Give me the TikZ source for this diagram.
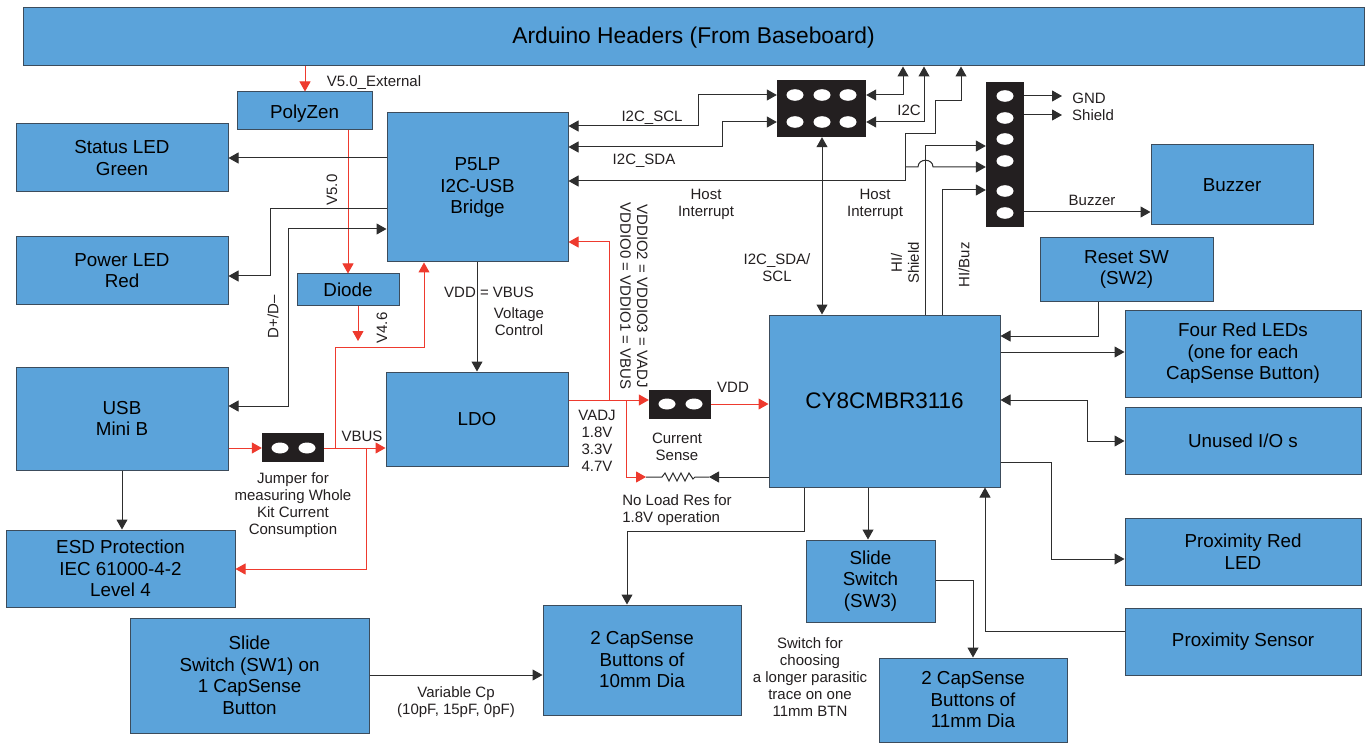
\documentclass[tikz,border=0pt]{standalone}
\usepackage{fontspec}
\setmainfont{Liberation Sans}
\usetikzlibrary{arrows.meta,calc}
\definecolor{blockblue}{HTML}{5BA3DA}
\definecolor{blockedge}{HTML}{3C4C5C}
\definecolor{wirered}{HTML}{EE3A2E}
\definecolor{wirek}{HTML}{2E2E2E}
\definecolor{blockk}{HTML}{231F20}
\tikzset{
  blockbox/.style={draw=blockedge,fill=blockblue,line width=1pt,inner sep=0pt,align=center,text=black,font=\fontsize{18.8}{21.5}\selectfont},
  headerbox/.style={fill=blockk,draw=none,inner sep=0pt},
  lbl/.style={inner sep=0pt,align=center,text=blockk,font=\fontsize{15}{16.8}\selectfont},
  wire/.style={draw=wirek,line width=1pt,-{Triangle[length=10pt,width=11pt]}},
  wire2/.style={draw=wirek,line width=1pt,{Triangle[length=10pt,width=11pt]}-{Triangle[length=10pt,width=11pt]}},
  plain/.style={draw=wirek,line width=1pt},
  rwire/.style={draw=wirered,line width=1pt,-{Triangle[length=10pt,width=11pt]}},
  hole/.style={fill=white,draw=none},
}
\newcommand{\bx}[6]{%
  \pgfmathsetmacro{\bxw}{#4-#2}\pgfmathsetmacro{\bxh}{#5-#3}%
  \pgfmathsetmacro{\bxcx}{(#2+#4)/2}\pgfmathsetmacro{\bxcy}{(#3+#5)/2}%
  \node[blockbox,minimum width=\bxw pt,minimum height=\bxh pt] (#1) at (\bxcx,\bxcy) {#6};}
\newcommand{\hd}[5]{%
  \pgfmathsetmacro{\bxw}{#4-#2}\pgfmathsetmacro{\bxh}{#5-#3}%
  \pgfmathsetmacro{\bxcx}{(#2+#4)/2}\pgfmathsetmacro{\bxcy}{(#3+#5)/2}%
  \node[headerbox,minimum width=\bxw pt,minimum height=\bxh pt] (#1) at (\bxcx,\bxcy) {};}
\begin{document}
\begin{tikzpicture}[x=1pt,y=-1pt]
\useasboundingbox (0,0) rectangle (1370,743);
\fill[white] (0,0) rectangle (1370,743);
% blocks
\bx{ard}{23}{8}{1364}{66}{\fontsize{22.8}{26}\selectfont\raisebox{2pt}[\height][0pt]{Arduino Headers (From Baseboard)}}
\bx{poly}{237}{92}{372}{130}{\raisebox{-1pt}[\height][0pt]{PolyZen}}
\bx{pfive}{387}{113}{568}{262}{P5LP\\I2C-USB\\Bridge}
\bx{status}{16}{124}{228}{192}{Status LED\\Green}
\bx{power}{16}{237}{228}{304}{Power LED\\Red}
\bx{diode}{297}{274}{399}{305}{Diode}
\bx{usb}{16}{367}{228}{470}{USB\\Mini B}
\bx{ldo}{386}{372}{568}{466}{LDO}
\bx{esd}{6}{530}{235}{607}{ESD Protection\\IEC 61000-4-2\\Level 4}
\bx{swone}{130}{618}{369}{733}{Slide\\Switch (SW1) on\\1 CapSense\\Button}
\bx{capten}{543}{605}{741}{715}{2 CapSense\\Buttons of\\10mm Dia}
\bx{swthree}{806}{540}{935}{622}{Slide\\Switch\\(SW3)}
\bx{capel}{879}{658}{1067}{742}{2 CapSense\\Buttons of\\11mm Dia}
\bx{cy}{769}{315}{1000}{487}{\fontsize{22.5}{26}\selectfont CY8CMBR3116}
\bx{buzzer}{1151}{145}{1313}{225}{Buzzer}
\bx{reset}{1040}{238}{1213}{301}{Reset SW\\(SW2)}
\bx{four}{1125}{310}{1361}{397}{Four Red LEDs\\(one for each\\CapSense Button)}
\bx{unused}{1125}{407}{1361}{474}{Unused I/O s}
\bx{proxled}{1125}{518}{1361}{585}{Proximity Red\\LED}
\bx{proxsen}{1125}{608}{1361}{675}{Proximity Sensor}
% black headers
\hd{hsix}{777}{80}{866}{137}
\hd{hstrip}{986}{82}{1024}{227}
\hd{jump}{262}{433}{324}{462}
\hd{sense}{649}{390}{711}{419}
\foreach \hx in {795,822,848}{\foreach \hy in {95,122}{\fill[hole] (\hx,\hy) ellipse (8.5pt and 5.8pt);}}
\foreach \hy in {96,118,139,161,191,213}{\fill[hole] (1005,\hy) ellipse (8.5pt and 5.8pt);}
\foreach \hx in {280,307}{\fill[hole] (\hx,448) ellipse (8.5pt and 5.5pt);}
\foreach \hx in {667,694}{\fill[hole] (\hx,404) ellipse (8.5pt and 5.5pt);}
% helper coordinates
\coordinate (diodeend) at (358,341);
\coordinate (gndend) at (1062,96);
\coordinate (shieldend) at (1062,115);
\coordinate (rleft) at (646,477);
\coordinate (rright) at (709,477);
% red wires
\draw[rwire] (ard.south -| 305,0) -- (poly.north -| 305,0);
\draw[rwire] (poly.south -| 348,0) -- (diode.north -| 348,0);
\draw[rwire] (diode.south -| 358,0) -- (diodeend);
\draw[rwire] (jump.east |- 0,448) -| (335,347) -| (pfive.south -| 424,0);
\draw[rwire] (usb.east |- 0,448) -- (jump.west |- 0,448);
\draw[rwire] (jump.east |- 0,448) -- (ldo.west |- 0,448);
\draw[rwire] (366,448) |- (esd.east |- 0,569);
\draw[rwire] (ldo.east |- 0,400) -- (sense.west |- 0,400);
\draw[rwire] (609,400) |- (pfive.east |- 0,242);
\draw[rwire] (626,400) |- (rleft);
\draw[rwire] (sense.east |- 0,404) -- (cy.west |- 0,404);
% resistor and its black wire
\draw[plain] (rleft) -- (662,477) -- (665,473) -- (669,481) -- (673,473) -- (677,481) -- (681,473) -- (685,481) -- (689,473) -- (693,479) -- (695,477) -- (rright);
\draw[wire] (cy.west |- 0,477) -- (rright);
% black wires
\draw[wire] (pfive.west |- 0,158) -- (status.east |- 0,158);
\draw[wire] (pfive.west |- 0,209) -| (270,276) -- (power.east |- 0,276);
\draw[wire2] (pfive.west |- 0,229) -| (288,406) -- (usb.east |- 0,406);
\draw[wire] (usb.south -| 122,0) -- (esd.north -| 122,0);
\draw[wire] (pfive.south -| 477,0) -- (ldo.north -| 477,0);
\draw[wire2] (pfive.east |- 0,126) -| (698,95) -- (hsix.west |- 0,95);
\draw[wire2] (pfive.east |- 0,147) -| (722,122) -- (hsix.west |- 0,122);
\draw[wire2] (hsix.east |- 0,95) -| (ard.south -| 903,0);
\draw[wire2] (hsix.east |- 0,122) -| (ard.south -| 924,0);
\draw[wire2] (ard.south -| 961,0) |- (935,101) |- (905,134) |- (pfive.east |- 0,181);
\draw[wire] (905,167) -- (918,167) .. controls (918,158) and (933,158) .. (933,167) -- (hstrip.west |- 0,167);
\draw[wire] (cy.north -| 925,0) |- (hstrip.west |- 0,146);
\draw[wire] (cy.north -| 942,0) |- (hstrip.west |- 0,190);
\draw[wire] (hstrip.east |- 0,96) -- (gndend);
\draw[wire] (hstrip.east |- 0,115) -- (shieldend);
\draw[wire] (hstrip.east |- 0,212) -- (buzzer.west |- 0,212);
\draw[wire2] (hsix.south -| 822,0) -- (cy.north -| 822,0);
\draw[wire] (reset.south -| 1098,0) |- (cy.east |- 0,336);
\draw[wire] (cy.east |- 0,352) -- (four.west |- 0,352);
\draw[wire2] (cy.east |- 0,400) -| (1087,441) -- (unused.west |- 0,441);
\draw[wire] (cy.east |- 0,462) -| (1051,559) -- (proxled.west |- 0,559);
\draw[wire] (proxsen.west |- 0,631) -| (cy.south -| 985,0);
\draw[wire] (cy.south -| 868,0) -- (swthree.north -| 868,0);
\draw[wire] (cy.south -| 804,0) |- (627,531) -- (capten.north -| 627,0);
\draw[wire] (swthree.east |- 0,580) -| (973,600) -- (capel.north -| 973,0);
\draw[wire] (swone.east |- 0,675) -- (capten.west |- 0,675);
% labels
\node[lbl] (t1) at (374,83) {V5.0\_External};
\node[lbl,rotate=90] (t2) at (332,190) {V5.0};
\node[lbl] (t3) at (652,118) {I2C\_SCL};
\node[lbl] (t4) at (644,161) {I2C\_SDA};
\node[lbl] (t5) at (706,204) {Host\\Interrupt};
\node[lbl] (t6) at (875,204) {Host\\Interrupt};
\node[lbl] (t7) at (909,110) {I2C};
\node[lbl] (t8) at (1089,98) {GND};
\node[lbl] (t9) at (1093,115) {Shield};
\node[lbl] (t10) at (1092,200) {Buzzer};
\node[lbl] (t11) at (777,268) {I2C\_SDA/\\SCL};
\node[lbl,rotate=90] (t12) at (905,263) {HI/\\Shield};
\node[lbl,rotate=90] (t13) at (964,265) {HI/Buz};
\node[lbl,rotate=90] (t14) at (273,317) {D+/D–};
\node[lbl,rotate=90] (t15) at (382,328) {V4.6};
\node[lbl] (t16) at (489,292) {VDD = VBUS};
\node[lbl] (t17) at (519,322) {Voltage\\Control};
\node[lbl] (t18) at (362,436) {VBUS};
\node[lbl] (t19) at (293,505) {Jumper for\\measuring Whole\\Kit Current\\Consumption};
\node[lbl] (t20) at (597,441) {VADJ\\1.8V\\3.3V\\4.7V};
\node[lbl] (t21) at (733,387) {VDD};
\node[lbl] (t22) at (677,447) {Current\\Sense};
\node[lbl,align=left] (t23) at (677,510) {No Load Res for\\1.8V operation};
\node[lbl,rotate=-90] (t24) at (634,296) {VDDIO2 = VDDIO3 = VADJ\\VDDIO0 = VDDIO1 = VBUS};
\node[lbl] (t25) at (810,677) {Switch for\\choosing\\a longer parasitic\\trace on one\\11mm BTN};
\node[lbl] (t26) at (456,702) {Variable Cp\\(10pF, 15pF, 0pF)};
\end{tikzpicture}
\end{document}
